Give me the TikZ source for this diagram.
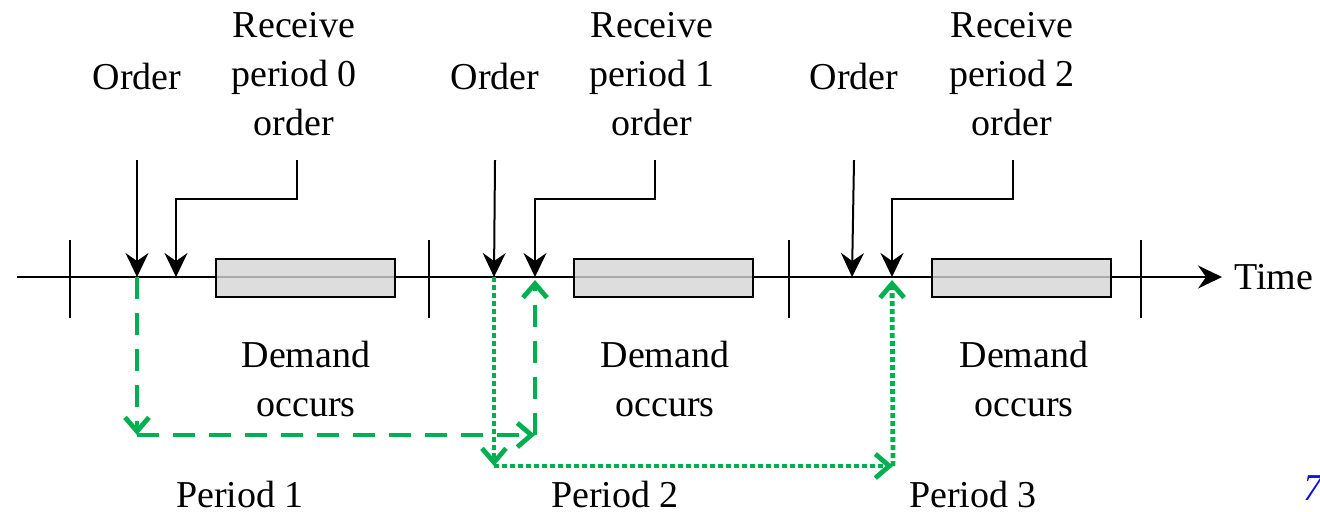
\documentclass[tikz,border=0pt]{standalone}
\usepackage{fontspec}
\setmainfont{Liberation Serif}
\usepackage{tikz}
\usetikzlibrary{arrows.meta,calc}
\definecolor{leaf}{HTML}{00B050}
\definecolor{shade}{HTML}{D4D4D4}
\definecolor{slideblue}{HTML}{1010E0}
\tikzset{
  lbl/.style={align=center, inner sep=0pt, font=\fontsize{19}{24.4}\selectfont},
  tickmark/.style={draw=black, line width=1pt},
  demandbox/.style={draw=black, line width=1.1pt, fill=shade, fill opacity=0.8},
  ptr/.style={-{Stealth[length=12pt, width=11.5pt, inset=4pt]}, draw=black, line width=1pt},
  lead/.style={-{Straight Barb[length=7pt, width=12pt]}, draw=leaf, line width=2.4pt,
               dash pattern=on 11pt off 7pt},
  lag/.style={-{Straight Barb[length=7pt, width=12pt]}, draw=leaf, line width=2.4pt,
              dash pattern=on 2.4pt off 1.6pt}
}

\begin{document}
\begin{tikzpicture}[x=0.5pt, y=-0.5pt]
 \useasboundingbox (0,0) rectangle (1320,511);
 % time axis
 \coordinate (axl) at (17,277);
 \coordinate (axr) at (1222,277);
 \draw[ptr] (axl) -- (axr);
 \node[lbl, anchor=west] (time) at (1234,277) {Time};
 % period boundaries
 \draw[tickmark] (70,240) -- (70,318);
 \draw[tickmark] (429,240) -- (429,318);
 \draw[tickmark] (789,240) -- (789,318);
 \draw[tickmark] (1141,240) -- (1141,318);
 % demand windows
 \draw[demandbox] (216,259) rectangle (395,297);
 \draw[demandbox] (574,259) rectangle (753,297);
 \draw[demandbox] (932,259) rectangle (1111,297);
 % event points on the axis
 \coordinate (ord1) at (137,277);
 \coordinate (rcv1) at (176,277);
 \coordinate (ord2) at (494,277);
 \coordinate (rcv2) at (535,277);
 \coordinate (ord3) at (852,277);
 \coordinate (rcv3) at (892,277);
 % labels above the axis
 \node[lbl] (order1) at (137,76) {Order};
 \node[lbl, anchor=north] (recv1) at (294,12) {Receive\\period 0\\order};
 \node[lbl] (order2) at (495,76) {Order};
 \node[lbl, anchor=north] (recv2) at (652,12) {Receive\\period 1\\order};
 \node[lbl] (order3) at (854,76) {Order};
 \node[lbl, anchor=north] (recv3) at (1012,12) {Receive\\period 2\\order};
 % pointers down to the axis
 \draw[ptr] (order1.south |- 0,160) -- (ord1);
 \draw[ptr] (297,160) -- ++(0,39) -| (rcv1);
 \draw[ptr] (order2.south |- 0,160) -- (ord2);
 \draw[ptr] (655,160) -- ++(0,39) -| (rcv2);
 \draw[ptr] (order3.south |- 0,160) -- (ord3);
 \draw[ptr] (1013,160) -- ++(0,39) -| (rcv3);
 % labels below the axis
 \node[lbl, anchor=north] (dem1) at (306,341) {Demand\\occurs};
 \node[lbl, anchor=north] (dem2) at (665,341) {Demand\\occurs};
 \node[lbl, anchor=north] (dem3) at (1024,341) {Demand\\occurs};
 \node[lbl] (per1) at (240,494) {Period 1};
 \node[lbl] (per2) at (615,494) {Period 2};
 \node[lbl] (per3) at (973,494) {Period 3};
 % lead time of the period 0 and period 1 orders
 \coordinate (c1) at (137,435);
 \coordinate (c2) at (535,435);
 \draw[lead] (ord1) -- (c1);
 \draw[lead] (c1) -- (c2);
 \draw[lead, shorten >=1.5pt] (c2) -- (rcv2);
 \coordinate (d1) at (494,466);
 \coordinate (d2) at (893,466);
 \draw[lag] (ord2) -- (d1);
 \draw[lag] (d1) -- (d2);
 \draw[lag, shorten >=1.5pt] (d2) -- (rcv3);
 % slide number
 \node[lbl, anchor=base west, text=slideblue] (pg) at (1303,500) {\itshape 7};
\end{tikzpicture}
\end{document}
